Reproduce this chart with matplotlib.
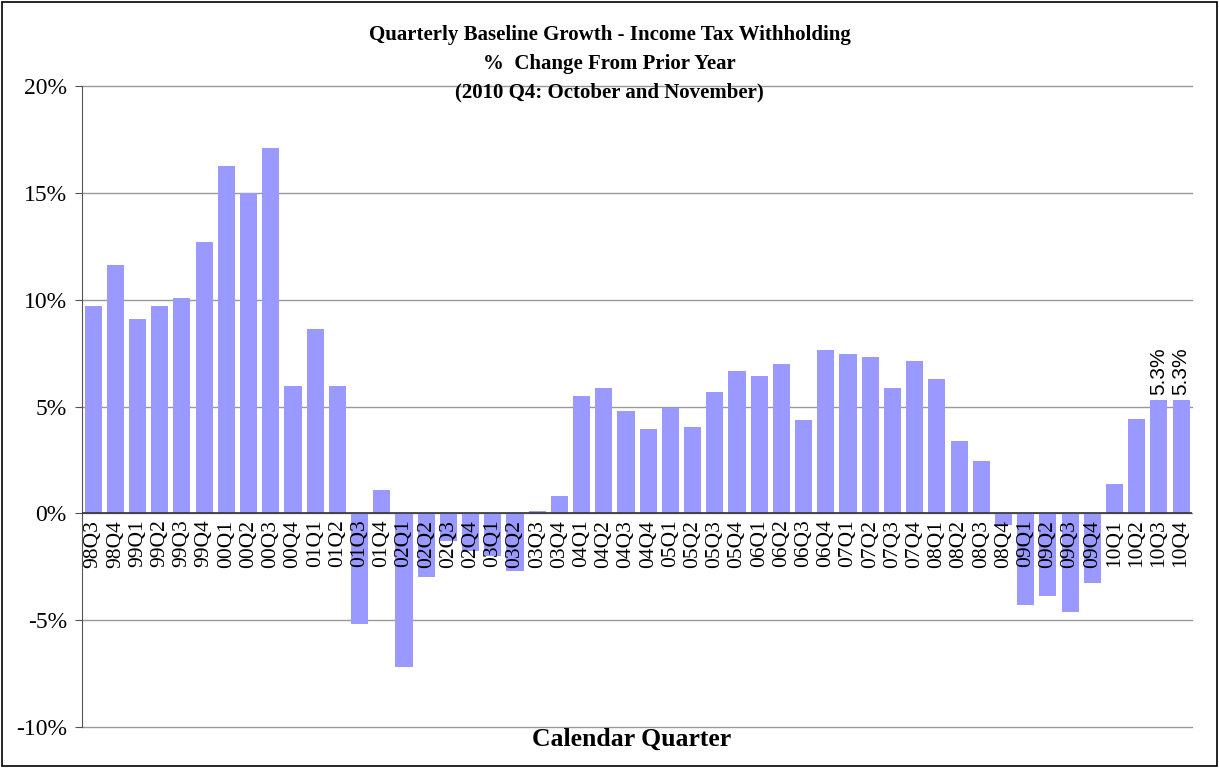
import matplotlib.pyplot as plt
from matplotlib.patches import Rectangle

quarters = ['98Q3', '98Q4',
            '99Q1', '99Q2', '99Q3', '99Q4',
            '00Q1', '00Q2', '00Q3', '00Q4',
            '01Q1', '01Q2', '01Q3', '01Q4',
            '02Q1', '02Q2', '02Q3', '02Q4',
            '03Q1', '03Q2', '03Q3', '03Q4',
            '04Q1', '04Q2', '04Q3', '04Q4',
            '05Q1', '05Q2', '05Q3', '05Q4',
            '06Q1', '06Q2', '06Q3', '06Q4',
            '07Q1', '07Q2', '07Q3', '07Q4',
            '08Q1', '08Q2', '08Q3', '08Q4',
            '09Q1', '09Q2', '09Q3', '09Q4',
            '10Q1', '10Q2', '10Q3', '10Q4']
growth = [9.7, 11.6,
          9.1, 9.7, 10.1, 12.7,
          16.25, 15.0, 17.1, 5.95,
          8.65, 5.95, -5.2, 1.1,
          -7.2, -3.0, -1.3, -1.75,
          -2.0, -2.7, 0.1, 0.8,
          5.5, 5.85, 4.8, 3.95,
          4.95, 4.05, 5.7, 6.65,
          6.45, 7.0, 4.35, 7.65,
          7.45, 7.3, 5.85, 7.15,
          6.3, 3.4, 2.45, -0.55,
          -4.3, -3.85, -4.6, -3.25,
          1.35, 4.4, 5.3, 5.3]
labeled = ['10Q3', '10Q4']
yticks = [-10, -5, 0, 5, 10, 15, 20]

serif = 'Liberation Serif'

fig = plt.figure(figsize=(12.19, 7.68), dpi=100)
ax = fig.add_axes([0.0673, 0.0534, 0.9107, 0.8346])

x = list(range(len(quarters)))
ax.bar(x, growth, width=0.77, color='#9999ff', zorder=2)

ax.set_ylim(-10, 20)
ax.set_xlim(-0.5, len(quarters) - 0.5)
ax.set_yticks(yticks)
ax.set_yticklabels(['%d%%' % v for v in yticks], fontfamily=serif, fontsize=17)
ax.set_xticks([])
ax.tick_params(axis='y', length=5, color='#555555', pad=6)
ax.grid(axis='y', color='#999999', linewidth=1, zorder=0)
for gl in ax.get_ygridlines():
    gl.set_clip_on(False)
ax.axhline(0, color='#333333', linewidth=1.2, zorder=3)

for s in ['top', 'right', 'bottom']:
    ax.spines[s].set_visible(False)
ax.spines['left'].set_color('#555555')

for i, q in enumerate(quarters):
    ax.text(i, -0.3, q, rotation=90, ha='center', va='top',
            fontfamily=serif, fontsize=15.5, zorder=4)
    if q in labeled:
        ax.text(i, growth[i] + 0.25, '%.1f%%' % growth[i], rotation=90,
                ha='center', va='bottom', fontfamily='Liberation Sans',
                fontsize=15, zorder=4)

fig.text(0.5, 0.954, 'Quarterly Baseline Growth - Income Tax Withholding',
         ha='center', va='center', fontfamily=serif, fontweight='bold', fontsize=15)
fig.text(0.5, 0.917, '%  Change From Prior Year',
         ha='center', va='center', fontfamily=serif, fontweight='bold', fontsize=15)
fig.text(0.5, 0.879, '(2010 Q4: October and November)',
         ha='center', va='center', fontfamily=serif, fontweight='bold', fontsize=15)
fig.text(0.518, 0.037, 'Calendar Quarter', ha='center', va='center',
         fontfamily=serif, fontweight='bold', fontsize=18.5)

fig.patches.append(Rectangle((0.002, 0.003), 0.996, 0.994, transform=fig.transFigure,
                             fill=False, edgecolor='black', linewidth=1.2))

fig.savefig('out.png', dpi=100)
